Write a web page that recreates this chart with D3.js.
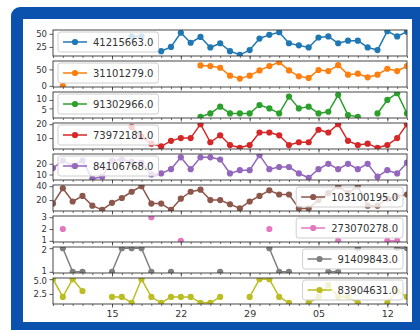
<!DOCTYPE html>
<html><head><meta charset="utf-8">
<script src="https://cdn.jsdelivr.net/npm/d3@7"></script>
<style>html,body{margin:0;padding:0;background:#fff;overflow:hidden}svg{display:block}</style>
</head><body>
<svg id="c" width="420" height="330"></svg>
<script>
// ---------- data ----------
const startDay = "2021-03-09";
const nDays = 37;
const seriesNames = ["41215663.0","31101279.0","91302966.0","73972181.0","84106768.0","103100195.0","273070278.0","91409843.0","83904631.0"];
const colors = ["#1f77b4","#ff7f0e","#2ca02c","#d62728","#9467bd","#8c564b","#e377c2","#7f7f7f","#bcbd22"];
const N = null;
const s1 = [N,N,N,N,N,N,N,N,45,45,N,17,25,52,33,44,24,32,17,10,19,41,48,53,32,28,24,43,45,32,37,37,24,19,55,45,54];
const s2 = [N,0,N,N,N,N,N,N,N,N,N,N,N,N,N,62,60,55,31,22,31,47,60,72,47,29,24,48,45,63,34,37,26,34,52,45,60];
const s3 = [N,N,N,N,N,N,N,N,N,N,N,N,N,N,N,0,2,6,2,2,2,7,5,2,12,5,6,2,3,13,1,0,N,2,10,14,2];
const s4 = [N,N,N,N,N,N,N,N,18,11,6,4,8,10,10,20,7,12,5,3,5,14,14,12,5,7,7,16,14,20,8,5,6,3,5,10,20];
const s5 = [16,23,18,23,6,8,23,24,22,21,10,11,15,26,15,26,26,24,11,14,14,28,15,17,17,11,7,15,20,15,20,15,20,8,14,11,21];
const s6 = [15,37,18,26,12,6,16,23,32,40,15,15,6,22,32,35,20,20,14,8,18,26,34,28,28,8,8,20,30,40,30,40,12,12,22,25,28];
const s7 = [N,2,N,N,N,N,N,N,N,N,3,N,N,1,N,N,N,N,N,N,N,N,2,N,N,N,N,N,N,1,N,N,N,N,1,1,N];
const s8 = [N,2,1,1,N,N,1,2,2,2,1,N,1,N,N,N,N,1,N,N,N,N,2,1,1,N,N,N,1,1,N,2,N,N,N,2,2];
const s9 = [5,2,5,3,N,N,2,2,1,5,2,1,2,2,2,1,1,2,N,N,2,5,5,2,1,N,1,2,4,2,2,1,N,N,1,3,2];
const yTicks = [[25,50],[0,50],[5,10],[10,20],[10,20],[20,40],[1,2,3],[1,2],[2.5,5.0]];
const yTickLabels = [["25","50"],["0","50"],["5","10"],["10","20"],["10","20"],["20","40"],["1","2","3"],["1","2"],["2.5","5.0"]];
const xTickDates = ["2021-03-15","2021-03-22","2021-03-29","2021-04-05","2021-04-12"];
const xTickLabels = ["15","22","29","05","12"];
const legendSide = ["left","left","left","left","left","right","right","right","right"];

// ---------- drawing ----------
const series = [s1,s2,s3,s4,s5,s6,s7,s8,s9];
const W = 420, H = 330;
const svg = d3.select("#c");
svg.append("rect").attr("width", W).attr("height", H).attr("fill", "#fff");
svg.append("rect").attr("x", 11).attr("y", 7).attr("width", 440).attr("height", 360).attr("rx", 9).attr("fill", "#0a52ad");
svg.append("rect").attr("x", 23).attr("y", 19).attr("width", 389).attr("height", 303).attr("fill", "#fff");

const t0 = d3.utcParse("%Y-%m-%d")(startDay);
const dates = d3.utcDay.range(t0, d3.utcDay.offset(t0, nDays));
const L = 53, R = 407, TOP = 30, AH = 26, STEP = 31;
const x = d3.scaleUtc().domain([dates[0], dates[dates.length - 1]]).range([L, R]);
const majorDates = xTickDates.map(d3.utcParse("%Y-%m-%d"));
const font = "DejaVu Sans, sans-serif";
const yLabelNodes = [];

series.forEach((vals, k) => {
  const top = TOP + k * STEP, bot = top + AH;
  const defined = vals.filter(v => v != null);
  const ext = d3.extent(defined);
  const pad = (ext[1] - ext[0]) * 0.05;
  const y = d3.scaleLinear().domain([ext[0] - pad, ext[1] + pad]).range([bot, top]);
  const data = vals.map((v, i) => ({d: dates[i], v}));
  const g = svg.append("g");

  const cid = "clip" + k;
  svg.append("clipPath").attr("id", cid).append("rect")
    .attr("x", L).attr("y", top).attr("width", R - L).attr("height", AH);

  const pg = g.append("g").attr("clip-path", `url(#${cid})`);
  const line = d3.line().defined(d => d.v != null).x(d => x(d.d)).y(d => y(d.v));
  pg.append("path").datum(data).attr("d", line).attr("fill", "none")
    .attr("stroke", colors[k]).attr("stroke-width", 1.5).attr("stroke-linejoin", "round");
  pg.selectAll("circle").data(data.filter(d => d.v != null)).join("circle")
    .attr("cx", d => x(d.d)).attr("cy", d => y(d.v)).attr("r", 3.1).attr("fill", colors[k]);

  // x ticks (minor daily, major weekly)
  const xa = g.append("g").attr("transform", `translate(0,${bot})`);
  xa.call(d3.axisBottom(x).tickValues(dates).tickSize(2).tickFormat(""))
    .call(a => a.select(".domain").remove())
    .call(a => a.selectAll("line").attr("stroke", "#333").attr("stroke-width", 0.7));
  const xm = g.append("g").attr("transform", `translate(0,${bot})`);
  xm.call(d3.axisBottom(x).tickValues(majorDates).tickSize(3.5).tickPadding(3)
      .tickFormat((d, i) => k === series.length - 1 ? xTickLabels[i] : ""))
    .call(a => a.select(".domain").remove())
    .call(a => a.selectAll("line").attr("stroke", "#333").attr("stroke-width", 0.8))
    .call(a => a.selectAll("text").attr("font-family", font).attr("font-size", 9.5).attr("fill", "#333"));

  // y axis
  const ya = g.append("g").attr("transform", `translate(${L},0)`);
  ya.call(d3.axisLeft(y).tickValues(yTicks[k]).tickSize(3.5).tickPadding(2.5)
      .tickFormat((d, i) => yTickLabels[k][i]))
    .call(a => a.select(".domain").remove())
    .call(a => a.selectAll("line").attr("stroke", "#333").attr("stroke-width", 0.8))
    .call(a => a.selectAll("text").attr("font-family", font).attr("font-size", 8.5).attr("fill", "#333"));
  yLabelNodes.push(...ya.selectAll("text").nodes());

  // frame
  g.append("rect").attr("x", L).attr("y", top).attr("width", R - L).attr("height", AH)
    .attr("fill", "none").attr("stroke", "#333").attr("stroke-width", 0.9);

  // legend
  const lg = g.append("g");
  const txt = lg.append("text").text(seriesNames[k]).attr("font-family", font)
    .attr("font-size", 10).attr("fill", "#333");
  const tw = txt.node().getComputedTextLength();
  const bw = 5 + 24 + 6 + tw + 5, bh = 20;
  const bx = legendSide[k] === "left" ? L + 5 : R - 4 - bw;
  const by = top + 2;
  lg.insert("rect", "text").attr("x", bx).attr("y", by).attr("width", bw).attr("height", bh)
    .attr("rx", 2.5).attr("fill", "#fff").attr("fill-opacity", 0.8)
    .attr("stroke", "#c8c8c8").attr("stroke-width", 0.9);
  lg.insert("line", "text").attr("x1", bx + 5).attr("x2", bx + 29).attr("y1", by + 10).attr("y2", by + 10)
    .attr("stroke", colors[k]).attr("stroke-width", 1.5);
  lg.insert("circle", "text").attr("cx", bx + 17).attr("cy", by + 10).attr("r", 3.1).attr("fill", colors[k]);
  txt.attr("x", bx + 35).attr("y", by + 14);
});

// nudge crowded y tick labels apart just enough not to collide
const labs = yLabelNodes.map(n => ({n, b: n.getBoundingClientRect(), s: 0}))
  .sort((a, b) => a.b.top - b.b.top);
for (let it = 0; it < 3; it++) {
  for (let i = 0; i < labs.length - 1; i++) {
    const a = labs[i], c = labs[i + 1];
    const ov = (a.b.bottom + a.s) - (c.b.top + c.s);
    if (ov > -0.3) {
      const d = (ov + 0.4) / 2;
      a.s -= d; c.s += d;
    }
  }
}
labs.forEach(l => d3.select(l.n).attr("transform", `translate(0,${l.s})`));
</script>
</body></html>
